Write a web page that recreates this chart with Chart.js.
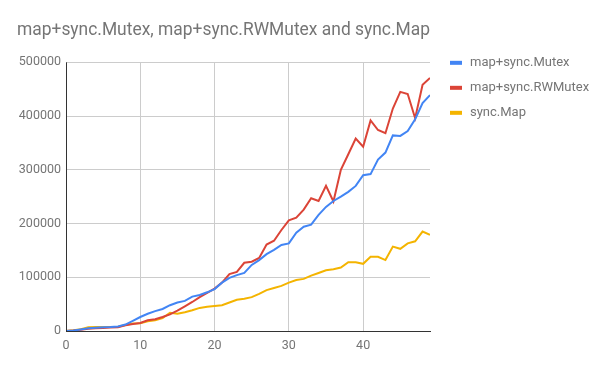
<!DOCTYPE html>
<html>
<head>
<meta charset="utf-8">
<script src="https://cdn.jsdelivr.net/npm/chart.js@4/dist/chart.umd.min.js"></script>
<style>
  html, body { margin: 0; padding: 0; background: #fff; }
  #wrap { width: 600px; height: 371px; position: relative; }
</style>
</head>
<body>
<div id="wrap"><canvas id="chart"></canvas></div>
<script>
const xValues = [0, 1, 2, 3, 4, 5, 6, 7, 8, 9, 10, 11, 12, 13, 14, 15, 16, 17, 18, 19,
  20, 21, 22, 23, 24, 25, 26, 27, 28, 29, 30, 31, 32, 33, 34, 35, 36, 37, 38, 39,
  40, 41, 42, 43, 44, 45, 46, 47, 48, 49];

const mutex = [0, 1000, 3000, 5000, 6000, 7000, 7500, 8500, 12000, 19000,
  26000, 32000, 37000, 41000, 48000, 53000, 56000, 64000, 67000, 72000,
  78000, 90000, 99000, 104000, 108000, 123000, 132000, 143000, 151000, 160000,
  163000, 183000, 194000, 198000, 216000, 231000, 242000, 250000, 259000, 270000,
  290000, 292000, 319000, 332000, 364000, 363000, 372000, 394000, 424000, 439000];

const rwMutex = [0, 1000, 2500, 4000, 5000, 5500, 6500, 7000, 10500, 13000,
  15000, 20000, 22000, 26000, 31000, 38000, 46000, 54000, 63000, 71000,
  79000, 90000, 106000, 110000, 127000, 129000, 136000, 161000, 168000, 188000,
  206000, 211000, 226000, 247000, 242000, 270000, 241000, 300000, 329000, 358000,
  343000, 392000, 374000, 368000, 414000, 445000, 441000, 396000, 458000, 471000];

const syncMap = [0, 1500, 3500, 7000, 7500, 7500, 7500, 8000, 11000, 14000,
  14500, 18000, 20000, 24000, 34000, 32000, 35000, 38500, 43000, 45000,
  46500, 48000, 53000, 58000, 60000, 63000, 69000, 76000, 80000, 84000,
  90000, 95000, 97000, 103000, 108000, 113000, 115000, 118000, 128000, 128000,
  125000, 138000, 138000, 132000, 157000, 153000, 163000, 167000, 185000, 179000];

const seriesNames = ['map+sync.Mutex', 'map+sync.RWMutex', 'sync.Map'];
const seriesColors = ['#4285F4', '#DB4437', '#F4B400'];

const textGray = '#757575';

function toPoints(values) {
  return values.map((v, i) => ({ x: xValues[i], y: v }));
}

// legend drawn to the right of the plot, one row per dataset
const sideLegend = {
  id: 'sideLegend',
  afterDraw(chart) {
    const { ctx, chartArea } = chart;
    ctx.save();
    ctx.font = '13px Roboto';
    ctx.textBaseline = 'middle';
    ctx.textAlign = 'left';
    chart.data.datasets.forEach((ds, i) => {
      const y = chartArea.top + 0.5 + i * 25;
      const x = chartArea.right + 20;
      ctx.fillStyle = ds.borderColor;
      ctx.fillRect(x, y - 2, 12, 4);
      ctx.fillStyle = textGray;
      ctx.fillText(ds.label, x + 20, y);
    });
    ctx.restore();
  }
};

new Chart(document.getElementById('chart'), {
  type: 'line',
  data: {
    datasets: [
      { label: seriesNames[0], data: toPoints(mutex), borderColor: seriesColors[0], backgroundColor: seriesColors[0] },
      { label: seriesNames[1], data: toPoints(rwMutex), borderColor: seriesColors[1], backgroundColor: seriesColors[1] },
      { label: seriesNames[2], data: toPoints(syncMap), borderColor: seriesColors[2], backgroundColor: seriesColors[2] }
    ]
  },
  options: {
    responsive: true,
    maintainAspectRatio: false,
    animation: false,
    layout: { padding: { left: 17, right: 170, top: 0, bottom: 0 } },
    elements: {
      line: { borderWidth: 2, tension: 0 },
      point: { radius: 0 }
    },
    scales: {
      x: {
        type: 'linear',
        min: 0,
        max: 49,
        afterFit: s => { s.height = 40; },
        grid: { color: '#cccccc', drawTicks: false },
        border: { color: '#333333' },
        ticks: {
          stepSize: 10,
          includeBounds: false,
          padding: 7,
          color: textGray,
          font: { family: 'Roboto', size: 12.5 }
        }
      },
      y: {
        min: 0,
        max: 500000,
        afterFit: s => { s.width = 49; },
        grid: { color: '#cccccc', drawTicks: false },
        border: { display: false },
        ticks: {
          stepSize: 100000,
          padding: 5,
          color: textGray,
          font: { family: 'Roboto', size: 12.5 },
          callback: v => String(v)
        }
      }
    },
    plugins: {
      legend: { display: false },
      tooltip: { enabled: false },
      title: {
        display: true,
        text: 'map+sync.Mutex, map+sync.RWMutex and sync.Map',
        align: 'start',
        color: textGray,
        font: { family: 'Roboto', size: 18.6, weight: 'normal' },
        padding: { top: 19, bottom: 21 }
      }
    }
  },
  plugins: [sideLegend, {
    id: 'yAxisLine',
    afterDatasetsDraw(chart) {
      // dark y axis line on top of the series, like the reference
      const { ctx, chartArea } = chart;
      ctx.save();
      ctx.strokeStyle = '#333333';
      ctx.lineWidth = 1;
      ctx.beginPath();
      ctx.moveTo(chartArea.left + 0.5, chartArea.top);
      ctx.lineTo(chartArea.left + 0.5, chartArea.bottom);
      ctx.stroke();
      ctx.restore();
    }
  }]
});
</script>
</body>
</html>
